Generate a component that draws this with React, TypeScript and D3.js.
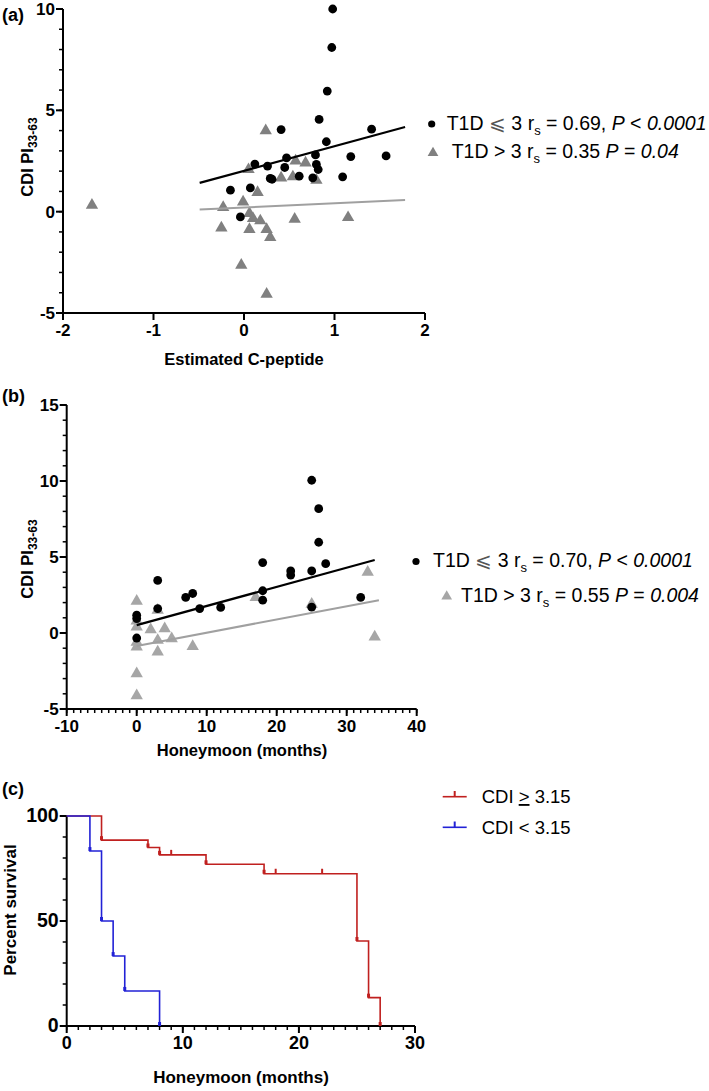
import React from 'react';
import * as d3 from 'd3';

// ---------- Panel (a): CDI PI33-63 vs Estimated C-peptide ----------
const aCircles: [number, number][] = [
  [0.98, 10], [0.97, 8.1], [0.92, 5.95], [0.83, 4.55], [0.41, 4.05], [1.41, 4.07],
  [0.91, 3.45], [1.18, 2.72], [1.57, 2.75], [0.79, 2.8], [0.47, 2.65], [0.12, 2.35],
  [0.26, 2.25], [0.45, 2.18], [0.8, 2.33], [0.82, 2.08], [0.29, 1.64], [0.31, 1.6],
  [0.61, 1.75], [0.76, 1.67], [1.09, 1.72], [-0.15, 1.06], [0.07, 1.17], [-0.04, -0.26],
];
const aTriangles: [number, number][] = [
  [0.24, 4.0], [0.05, 2.08], [0.57, 2.5], [0.68, 2.41], [0.41, 1.67], [0.54, 1.72],
  [0.8, 1.55], [0.15, 0.95], [-0.01, 0.48], [-0.23, 0.21], [0.06, -0.09], [0.1, -0.34],
  [0.18, -0.45], [0.56, -0.37], [1.15, -0.29], [-0.25, -0.8], [0.06, -0.88], [0.25, -0.88],
  [0.29, -1.27], [-0.03, -2.64], [0.25, -4.07], [-1.68, 0.32],
];
const aFitLow: [number, number][] = [[-0.49, 1.42], [1.78, 4.18]];
const aFitHigh: [number, number][] = [[-0.49, 0.11], [1.78, 0.57]];
const aXTicks = [-2, -1, 0, 1, 2];
const aYTicks = [-5, 0, 5, 10];

// ---------- Panel (b): CDI PI33-63 vs Honeymoon ----------
const bCircles: [number, number][] = [
  [0, 1.17], [0, 0.95], [0, -0.33], [3, 3.46], [3, 1.61], [7, 2.34], [8, 2.6], [9, 1.61],
  [12, 1.68], [18, 4.63], [18, 2.78], [18, 2.16], [22, 4.08], [22, 3.81], [25, 10.05],
  [26, 8.18], [26, 5.97], [27, 4.56], [25, 4.08], [25, 1.7], [32, 2.34],
];
const bTriangles: [number, number][] = [
  [0, 2.1], [0, 0.8], [0, 0.4], [0, -0.6], [0, -0.92], [0, -2.68], [0, -4.12], [2, 0.22],
  [3, 1.5], [3, -0.48], [3, -1.25], [4, 0.29], [5, -0.37], [8, -0.88], [17, 2.34],
  [25, 1.9], [33, 4.0], [34, -0.26],
];
const bFitLow: [number, number][] = [[0, 0.52], [34, 4.8]];
const bFitHigh: [number, number][] = [[0, -0.85], [34.6, 2.16]];
const bXTicks = [-10, 0, 10, 20, 30, 40];
const bYTicks = [-5, 0, 5, 10, 15];

// ---------- Panel (c): Kaplan-Meier ----------
const kmHighTimes = [0, 3, 7, 8, 12, 17, 25, 26, 27];
const kmHighSurv = [100, 88.5, 85, 81.5, 77, 72.5, 40.5, 13.5, 0];
const kmHighCensor: [number, number][] = [[9, 81.5], [18, 72.5], [22, 72.5]];
const kmLowTimes = [0, 2, 3, 4, 5, 8];
const kmLowSurv = [100, 83.3, 50, 33.3, 16.7, 0];
const cXTicks = [0, 10, 20, 30];
const cYTicks = [0, 50, 100];

const FONT = "'Liberation Sans', Arial, Helvetica, sans-serif";
const RED = '#c0201f';
const BLUE = '#2222d6';

type Scale = d3.ScaleLinear<number, number>;

function Axes({ x, y, xTicks, yTicks, xMinor, yMinor, fs, yfs }: {
  x: Scale; y: Scale; xTicks: number[]; yTicks: number[]; xMinor?: number[]; yMinor?: number[]; fs: number; yfs?: number;
}) {
  const [x0] = x.range();
  const [y0] = y.range();
  const xr = x.range();
  const yr = y.range();
  const yf = yfs || fs;
  return (
    <g fontFamily={FONT} fontWeight="bold" fontSize={fs}>
      <line x1={xr[0]} x2={xr[1]} y1={y0} y2={y0} stroke="#000" strokeWidth={2} />
      <line x1={x0} x2={x0} y1={yr[0]} y2={yr[1]} stroke="#000" strokeWidth={2} />
      {(xMinor || []).map((t) => (
        <line key={'xm' + t} x1={x(t)} x2={x(t)} y1={y0} y2={y0 + 4} stroke="#000" strokeWidth={1.5} />
      ))}
      {(yMinor || []).map((t) => (
        <line key={'ym' + t} x1={x0} x2={x0 - 4} y1={y(t)} y2={y(t)} stroke="#000" strokeWidth={1.5} />
      ))}
      {xTicks.map((t) => (
        <g key={'x' + t}>
          <line x1={x(t)} x2={x(t)} y1={y0} y2={y0 + 7} stroke="#000" strokeWidth={2} />
          <text x={x(t)} y={y0 + 23} textAnchor="middle">{t}</text>
        </g>
      ))}
      {yTicks.map((t) => (
        <g key={'y' + t}>
          <line x1={x0} x2={x0 - 7} y1={y(t)} y2={y(t)} stroke="#000" strokeWidth={2} />
          <text x={x0 - 8} y={y(t) + 6} textAnchor="end" fontSize={yf}>{t}</text>
        </g>
      ))}
    </g>
  );
}

const range = (a: number, b: number, s: number) => d3.range(a, b + 1e-9, s);

export default function App() {
  const tri = d3.symbol().type(d3.symbolTriangle).size(66)() as string;
  const triLegend = d3.symbol().type(d3.symbolTriangle).size(50)() as string;

  const ax = d3.scaleLinear().domain([-2, 2]).range([63, 425]);
  const ay = d3.scaleLinear().domain([-5, 10]).range([313, 9]);
  const bx = d3.scaleLinear().domain([-10, 40]).range([66.7, 416.7]);
  const by = d3.scaleLinear().domain([-5, 15]).range([709, 405]);
  const cx = d3.scaleLinear().domain([0, 30]).range([66.7, 415]);
  const cy = d3.scaleLinear().domain([0, 100]).range([1026, 816]);

  const lineA = d3.line<[number, number]>().x((d) => ax(d[0])).y((d) => ay(d[1]));
  const lineB = d3.line<[number, number]>().x((d) => bx(d[0])).y((d) => by(d[1]));
  const km = d3.line<[number, number]>().x((d) => cx(d[0])).y((d) => cy(d[1])).curve(d3.curveStepAfter);
  const highPts: [number, number][] = kmHighTimes.map((t, i) => [t, kmHighSurv[i]]);
  const lowPts: [number, number][] = kmLowTimes.map((t, i) => [t, kmLowSurv[i]]);

  const legend = (o: { y1: number; y2: number; r1: string; p1: string; r2: string; p2: string; triColor: string; bx1: number; tx1: number; bx2: number; tx2: number }) => (
    <g fontFamily={FONT} fontSize={19.5} fill="#000">
      <circle cx={o.bx1} cy={o.y1 - 5.5} r={3.6} fill="#000" />
      <text x={o.tx1} y={o.y1}>
        <tspan>T1D </tspan><tspan fill="#555">⩽</tspan><tspan> 3 r</tspan>
        <tspan fontSize={13} dy={5}>s</tspan>
        <tspan dy={-5}>{` = ${o.r1}, `}</tspan>
        <tspan fontStyle="italic">P</tspan><tspan>{' < '}</tspan><tspan fontStyle="italic">{o.p1}</tspan>
      </text>
      <path d={triLegend} transform={`translate(${o.bx2},${o.y2 - 5})`} fill={o.triColor} />
      <text x={o.tx2} y={o.y2}>
        <tspan>T1D &gt; 3 r</tspan>
        <tspan fontSize={13} dy={5}>s</tspan>
        <tspan dy={-5}>{` = ${o.r2} `}</tspan>
        <tspan fontStyle="italic">P</tspan><tspan>{' = '}</tspan><tspan fontStyle="italic">{o.p2}</tspan>
      </text>
    </g>
  );

  return (
    <svg width={709} height={1091} style={{ position: 'absolute', left: 0, top: 0, background: '#fff' }}>
      <rect width={709} height={1091} fill="#fff" />

      {/* ---------- Panel (a) ---------- */}
      <text x={2} y={21} fontFamily={FONT} fontWeight="bold" fontSize={18}>(a)</text>
      <Axes x={ax} y={ay} xTicks={aXTicks} yTicks={aYTicks} yMinor={range(-5, 10, 1)} fs={17} />
      <text transform="translate(33,157) rotate(-90)" textAnchor="middle" fontFamily={FONT} fontWeight="bold" fontSize={16.5}>
        CDI PI<tspan fontSize={12} dy={4}>33-63</tspan>
      </text>
      <text x={244} y={365} textAnchor="middle" fontFamily={FONT} fontWeight="bold" fontSize={16.5}>Estimated C-peptide</text>
      {aTriangles.map((d, i) => (
        <path key={'at' + i} d={tri} transform={`translate(${ax(d[0])},${ay(d[1])})`} fill="#808080" />
      ))}
      {aCircles.map((d, i) => (
        <circle key={'ac' + i} cx={ax(d[0])} cy={ay(d[1])} r={4.4} fill="#000" />
      ))}
      <path d={lineA(aFitLow) as string} stroke="#000" strokeWidth={2.2} fill="none" />
      <path d={lineA(aFitHigh) as string} stroke="#a0a0a0" strokeWidth={2} fill="none" />
      {legend({ y1: 129.5, y2: 158, r1: '0.69', p1: '0.0001', r2: '0.35', p2: '0.04', triColor: '#808080', bx1: 431.7, tx1: 446.7, bx2: 433, tx2: 451.7 })}

      {/* ---------- Panel (b) ---------- */}
      <text x={2} y={402} fontFamily={FONT} fontWeight="bold" fontSize={18}>(b)</text>
      <Axes x={bx} y={by} xTicks={bXTicks} yTicks={bYTicks} xMinor={range(-10, 40, 1)} yMinor={range(-5, 15, 1)} fs={17} />
      <text transform="translate(33,559) rotate(-90)" textAnchor="middle" fontFamily={FONT} fontWeight="bold" fontSize={16.5}>
        CDI PI<tspan fontSize={12} dy={4}>33-63</tspan>
      </text>
      <text x={242} y={756} textAnchor="middle" fontFamily={FONT} fontWeight="bold" fontSize={16.5}>Honeymoon (months)</text>
      {bTriangles.map((d, i) => (
        <path key={'bt' + i} d={tri} transform={`translate(${bx(d[0])},${by(d[1])})`} fill="#a6a6a6" />
      ))}
      {bCircles.map((d, i) => (
        <circle key={'bc' + i} cx={bx(d[0])} cy={by(d[1])} r={4.4} fill="#000" />
      ))}
      <path d={lineB(bFitLow) as string} stroke="#000" strokeWidth={2.2} fill="none" />
      <path d={lineB(bFitHigh) as string} stroke="#a0a0a0" strokeWidth={2} fill="none" />
      {legend({ y1: 567, y2: 601.5, r1: '0.70', p1: '0.0001', r2: '0.55', p2: '0.004', triColor: '#a6a6a6', bx1: 416, tx1: 433, bx2: 446.7, tx2: 461 })}

      {/* ---------- Panel (c) ---------- */}
      <text x={2} y={795} fontFamily={FONT} fontWeight="bold" fontSize={18}>(c)</text>
      <Axes x={cx} y={cy} xTicks={cXTicks} yTicks={cYTicks} xMinor={range(0, 30, 1)} yMinor={range(0, 100, 10)} fs={18} yfs={19.5} />
      <text transform="translate(16,910) rotate(-90)" textAnchor="middle" fontFamily={FONT} fontWeight="bold" fontSize={17}>Percent survival</text>
      <text x={241} y={1083} textAnchor="middle" fontFamily={FONT} fontWeight="bold" fontSize={17}>Honeymoon (months)</text>
      <path d={km(highPts) as string} stroke={RED} strokeWidth={1.6} fill="none" />
      <path d={km(lowPts) as string} stroke={BLUE} strokeWidth={1.6} fill="none" />
      {highPts.slice(1).map((d, i) => (
        <line key={'he' + i} x1={cx(d[0])} x2={cx(d[0])} y1={cy(d[1])} y2={cy(d[1]) - 4} stroke={RED} strokeWidth={3} />
      ))}
      {kmHighCensor.map((d, i) => (
        <line key={'hc' + i} x1={cx(d[0])} x2={cx(d[0])} y1={cy(d[1])} y2={cy(d[1]) - 5} stroke={RED} strokeWidth={2} />
      ))}
      {lowPts.slice(1).map((d, i) => (
        <line key={'le' + i} x1={cx(d[0])} x2={cx(d[0])} y1={cy(d[1])} y2={cy(d[1]) - 4} stroke={BLUE} strokeWidth={3} />
      ))}
      <g fontFamily={FONT} fontSize={18.5}>
        <line x1={442.7} x2={466.7} y1={796.7} y2={796.7} stroke={RED} strokeWidth={1.6} />
        <line x1={454.7} x2={454.7} y1={796.7} y2={791} stroke={RED} strokeWidth={2} />
        <text x={481.7} y={803}>CDI <tspan textDecoration="underline">&gt;</tspan> 3.15</text>
        <line x1={442.7} x2={466.7} y1={827.3} y2={827.3} stroke={BLUE} strokeWidth={1.6} />
        <line x1={454.7} x2={454.7} y1={827.3} y2={821.5} stroke={BLUE} strokeWidth={2} />
        <text x={481.7} y={833.5}>CDI &lt; 3.15</text>
      </g>
    </svg>
  );
}
